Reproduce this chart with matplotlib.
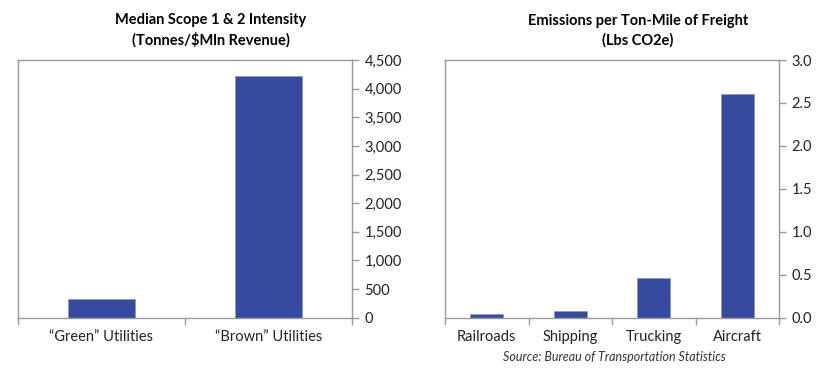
import matplotlib.pyplot as plt
from matplotlib.ticker import FuncFormatter, FixedLocator

plt.rcParams['font.family'] = ['Lato', 'DejaVu Sans']

# data
util_cats = ['\u201cGreen\u201d Utilities', '\u201cBrown\u201d Utilities']
util_vals = [325, 4225]
freight_cats = ['Railroads', 'Shipping', 'Trucking', 'Aircraft']
freight_vals = [0.04, 0.08, 0.46, 2.61]

bar_color = '#364b9f'
spine_color = '#9a9a9a'

fig = plt.figure(figsize=(8.4, 3.77), dpi=100)
ax1 = fig.add_axes([18/840, 1-317.7/377, (352-18)/840, (317.7-60)/377])
ax2 = fig.add_axes([445/840, 1-317.7/377, (779-445)/840, (317.7-60)/377])


def style(ax, cats, vals, ymax, step, fmt):
    x = list(range(len(cats)))
    ax.bar(x, vals, width=0.4, color=bar_color, edgecolor='#8d98cc', linewidth=0.6)
    ax.set_xlim(-0.5, len(cats) - 0.5)
    ax.set_ylim(0, ymax)
    ax.set_xticks(x)
    ax.set_xticklabels(cats, fontsize=10.5, color='#222222')
    ax.xaxis.set_minor_locator(FixedLocator([i - 0.5 for i in range(len(cats) + 1)]))
    ax.tick_params(axis='x', which='major', length=0, pad=9)
    ax.tick_params(axis='x', which='minor', length=5, color=spine_color, width=1)
    ax.yaxis.tick_right()
    n = int(round(ymax / step))
    ax.set_yticks([i * step for i in range(n + 1)])
    ax.yaxis.set_major_formatter(FuncFormatter(fmt))
    ax.tick_params(axis='y', length=5, color=spine_color, width=1, pad=4,
                   labelsize=10.5, labelcolor='#222222')
    for s in ax.spines.values():
        s.set_color(spine_color)
        s.set_linewidth(1)


style(ax1, util_cats, util_vals, 4500, 500, lambda v, p: f'{v:,.0f}')
style(ax2, freight_cats, freight_vals, 3.0, 0.5, lambda v, p: f'{v:.1f}')

# titles sit centred over plot + tick labels
fig.text(211/840, 1-30.5/377, 'Median Scope 1 & 2 Intensity\n(Tonnes/$Mln Revenue)',
         ha='center', va='center', fontsize=10.5, fontweight='bold', linespacing=1.45)
fig.text(638/840, 1-30.5/377, 'Emissions per Ton-Mile of Freight\n(Lbs CO2e)',
         ha='center', va='center', fontsize=10.5, fontweight='bold', linespacing=1.45)

fig.text(614/840, 1-357/377, 'Source: Bureau of Transportation Statistics',
         ha='center', va='center', fontsize=9, style='italic', color='#333333')

fig.savefig('out.png', dpi=100)
